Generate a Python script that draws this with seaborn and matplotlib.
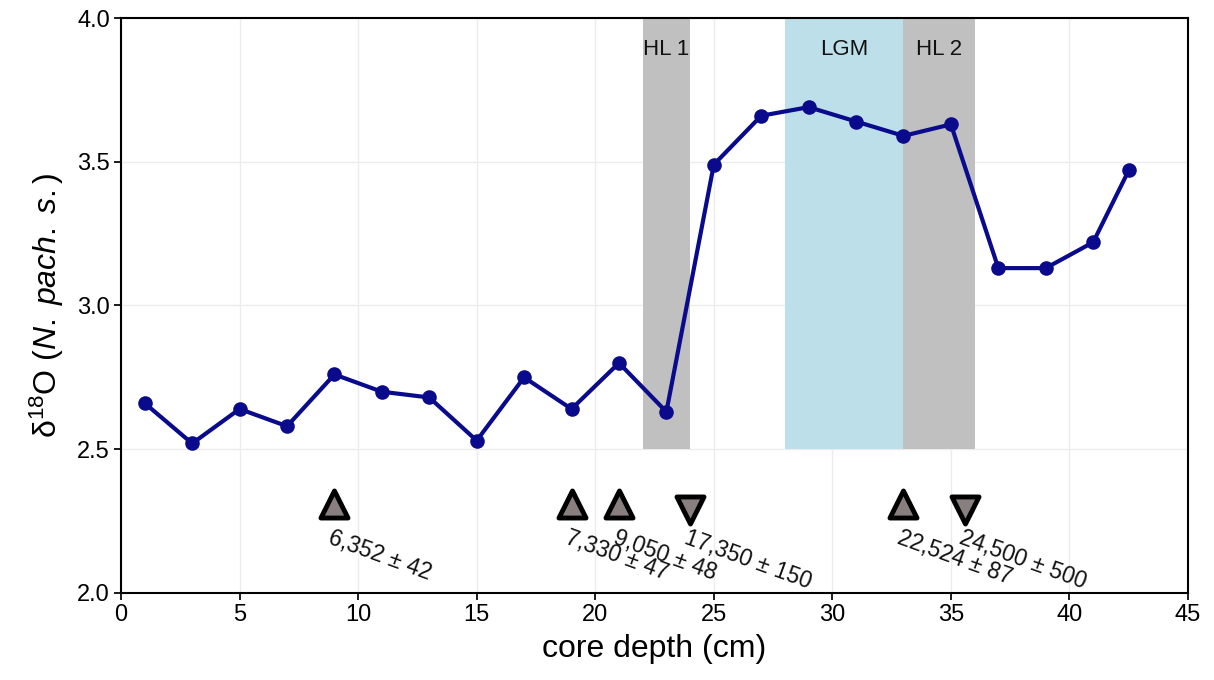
import matplotlib
matplotlib.use("Agg")
import matplotlib.pyplot as plt
import seaborn as sns
import pandas as pd

depth = [1, 3, 5, 7, 9, 11, 13, 15, 17, 19, 21, 23, 25, 27, 29, 31, 33, 35, 37, 39, 41, 42.5]
d18o = [2.66, 2.52, 2.64, 2.58, 2.76, 2.70, 2.68, 2.53, 2.75, 2.64, 2.80, 2.63,
        3.49, 3.66, 3.69, 3.64, 3.59, 3.63, 3.13, 3.13, 3.22, 3.47]

band_names = ["HL 1", "LGM", "HL 2"]
band_start = [22, 28, 33]
band_end = [24, 33, 36]
band_colors = ["#c0c0c0", "#bcdfe9", "#c0c0c0"]

date_depth = [9, 19, 21, 24, 33, 35.6]
date_labels = ["6,352 ± 42", "7,330 ± 47", "9,050 ± 48", "17,350 ± 150", "22,524 ± 87", "24,500 ± 500"]
date_dir = ["up", "up", "up", "down", "up", "down"]

sns.set_theme(style="whitegrid")
plt.rcParams['font.family'] = ['Liberation Sans', 'DejaVu Sans']
plt.rcParams['mathtext.fontset'] = 'custom'
plt.rcParams['mathtext.rm'] = 'Liberation Sans'
plt.rcParams['mathtext.it'] = 'Liberation Sans:italic'

fig = plt.figure(figsize=(12.14, 6.8), dpi=100)
ax = fig.add_axes([0.0997, 0.128, 0.8789, 0.8455])

for n, s, e, c in zip(band_names, band_start, band_end, band_colors):
    ax.fill_between([s, e], 2.5, 4.0, color=c, lw=0, zorder=1)
    ax.text((s + e) / 2, 3.89, n, ha="center", va="center", fontsize=16, color="#111111", zorder=2)

df = pd.DataFrame({"depth": depth, "d18o": d18o})
sns.lineplot(data=df, x="depth", y="d18o", ax=ax, color="#0a0a8c", linewidth=3,
             marker="o", markersize=10.5, markeredgewidth=0, zorder=3)

for x, lab, d in zip(date_depth, date_labels, date_dir):
    if d == "up":
        ax.scatter([x], [2.31], marker="^", s=380, color="#8a7f7f", edgecolor="black",
                   linewidth=3.5, zorder=4)
    else:
        ax.scatter([x], [2.29], marker="v", s=380, color="#8a7f7f", edgecolor="black",
                   linewidth=3.5, zorder=4)
    ax.text(x - 0.05, 2.232, lab, rotation=-20, rotation_mode="anchor",
            ha="left", va="top", fontsize=16.5, color="#111111", zorder=4)

ax.set_xlim(0, 45)
ax.set_ylim(2.0, 4.0)
ax.set_xticks(range(0, 46, 5))
ax.set_yticks([2.0, 2.5, 3.0, 3.5, 4.0])
ax.set_yticklabels(["2.0", "2.5", "3.0", "3.5", "4.0"])
ax.set_xlabel("core depth (cm)", fontsize=23, color="black", labelpad=6)
ax.set_ylabel("δ$^{18}$O ($\\mathit{N.\\;pach.\\;s.}$)", fontsize=23, color="black", labelpad=8)
ax.tick_params(labelsize=17, length=5, color="black", labelcolor="black",
               direction="out", left=True, bottom=True, pad=3)
ax.grid(True, color="#ececec", linewidth=1)
for sp in ax.spines.values():
    sp.set_color("black")
    sp.set_linewidth(1.5)

fig.savefig("out.png", dpi=100)
